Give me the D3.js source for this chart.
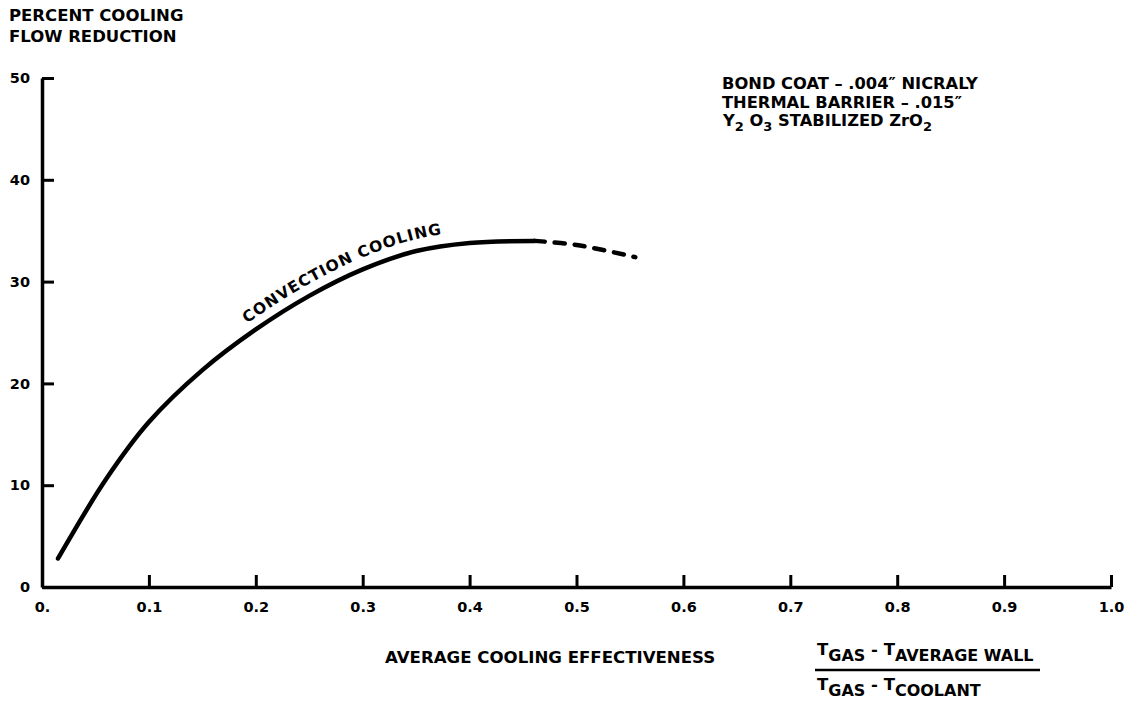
<!DOCTYPE html>
<html><head><meta charset="utf-8">
<script src="https://cdn.jsdelivr.net/npm/d3@7"></script>
<style>
html,body{margin:0;padding:0;background:#fff;}
svg{display:block;}
text{font-family:"DejaVu Sans","Liberation Sans",Arial,sans-serif;font-weight:bold;fill:#000;}
</style></head>
<body>
<svg id="chart" width="1130" height="701"></svg>
<script>
// ---- data ----
const xTickValues = [0,0.1,0.2,0.3,0.4,0.5,0.6,0.7,0.8,0.9,1.0];
const xTickLabels = ["0.","0.1","0.2","0.3","0.4","0.5","0.6","0.7","0.8","0.9","1.0"];
const yTickValues = [0,10,20,30,40,50];
const yTickLabels = ["0","10","20","30","40","50"];
const solidX = [0.015,0.06,0.10,0.15,0.20,0.25,0.30,0.35,0.40,0.461];
const solidY = [2.8,10.6,16.2,21.3,25.3,28.6,31.2,33.0,33.8,34.0];
const dashedX = [0.461,0.50,0.555];
const dashedY = [34.0,33.6,32.4];
const curveLabel = "CONVECTION  COOLING";
const yTitleLines = ["PERCENT COOLING","FLOW REDUCTION"];
const xTitle = "AVERAGE COOLING EFFECTIVENESS";

const FONT = '"DejaVu Sans","Liberation Sans",Arial,sans-serif';
const svg = d3.select("#chart");
const x = d3.scaleLinear().domain([0,1]).range([42,1111]);
const y = d3.scaleLinear().domain([0,50]).range([587,78]);

// axes
const yAxis = d3.axisLeft(y).tickValues(yTickValues).tickFormat((d,i)=>yTickLabels[i])
  .tickSizeInner(-12).tickSizeOuter(0).tickPadding(12);
const xAxis = d3.axisBottom(x).tickValues(xTickValues).tickFormat((d,i)=>xTickLabels[i])
  .tickSizeInner(-12).tickSizeOuter(0).tickPadding(15);

const gy = svg.append("g").attr("transform",`translate(${x(0)},0)`).call(yAxis);
const gx = svg.append("g").attr("transform",`translate(0,${y(0)})`).call(xAxis);
[gx,gy].forEach(g=>{
  g.selectAll("path.domain").attr("stroke","#000").attr("stroke-width",3.5);
  g.selectAll(".tick line").attr("stroke","#000").attr("stroke-width",3);
  g.selectAll(".tick text").style("font-size","14.5px").style("font-weight","bold")
   .style("font-family",FONT).attr("fill","#000");
});
gx.select(".tick line").remove(); // no upward tick at origin

// curves
const line = d3.line().x(d=>x(d[0])).y(d=>y(d[1])).curve(d3.curveCatmullRom.alpha(0.5));
const solid = solidX.map((v,i)=>[v,solidY[i]]);
const dashed = dashedX.map((v,i)=>[v,dashedY[i]]);
svg.append("path").attr("d",line(solid)).attr("fill","none").attr("stroke","#000")
  .attr("stroke-width",4.5).attr("stroke-linecap","round");
svg.append("path").attr("d",line(dashed)).attr("fill","none").attr("stroke","#000")
  .attr("stroke-width",4.5).attr("stroke-linecap","round").attr("stroke-dasharray","10,10");

// label along curve
const labelPath = svg.append("path").attr("id","lblpath")
  .attr("d",line(solid)).attr("fill","none").attr("stroke","none")
  .attr("transform","translate(0,-12)");
const node = labelPath.node();
const total = node.getTotalLength();
let lo=0, hi=total;
for(let k=0;k<40;k++){const m=(lo+hi)/2; if(node.getPointAtLength(m).x < 247) lo=m; else hi=m;}
svg.append("text").style("font-size","15.5px")
  .append("textPath").attr("href","#lblpath").attr("startOffset",lo)
  .attr("textLength",216).attr("lengthAdjust","spacing").text(curveLabel);

// y title
svg.append("text").attr("x",9).attr("y",21).style("font-size","16.5px")
  .selectAll("tspan").data(yTitleLines).join("tspan")
  .attr("x",9).attr("dy",(d,i)=>i?21:0).text(d=>d);

// annotation
const ann = svg.append("text").style("font-size","16.3px");
ann.append("tspan").attr("x",722).attr("y",89).text("BOND COAT \u2013 .004\u2033 NICRALY");
ann.append("tspan").attr("x",722).attr("y",108).text("THERMAL BARRIER \u2013 .015\u2033");
const l3 = svg.append("text").attr("x",723).attr("y",126).style("font-size","16.3px");
l3.append("tspan").text("Y");
l3.append("tspan").attr("dy",5).style("font-size","13px").text("2");
l3.append("tspan").attr("dy",-5).text(" O");
l3.append("tspan").attr("dy",5).style("font-size","13px").text("3");
l3.append("tspan").attr("dy",-5).text(" STABILIZED ZrO");
l3.append("tspan").attr("dy",5).style("font-size","13px").text("2");

// x title
svg.append("text").attr("x",385).attr("y",663).style("font-size","16.6px").text(xTitle);

// fraction
function fracTerm(yb, a, b){
  const t = svg.append("text").attr("x",817).attr("y",yb).style("font-size","16.5px");
  t.append("tspan").text("T");
  t.append("tspan").attr("dy",6).style("font-size","16px").text(a);
  t.append("tspan").attr("dy",-6).text(" - T");
  t.append("tspan").attr("dy",6).style("font-size","16px").text(b);
  return t;
}
fracTerm(655,"GAS","AVERAGE WALL");
fracTerm(690,"GAS","COOLANT");
svg.append("line").attr("x1",815).attr("x2",1040).attr("y1",670).attr("y2",670)
  .attr("stroke","#000").attr("stroke-width",2.5);
</script>
</body></html>
